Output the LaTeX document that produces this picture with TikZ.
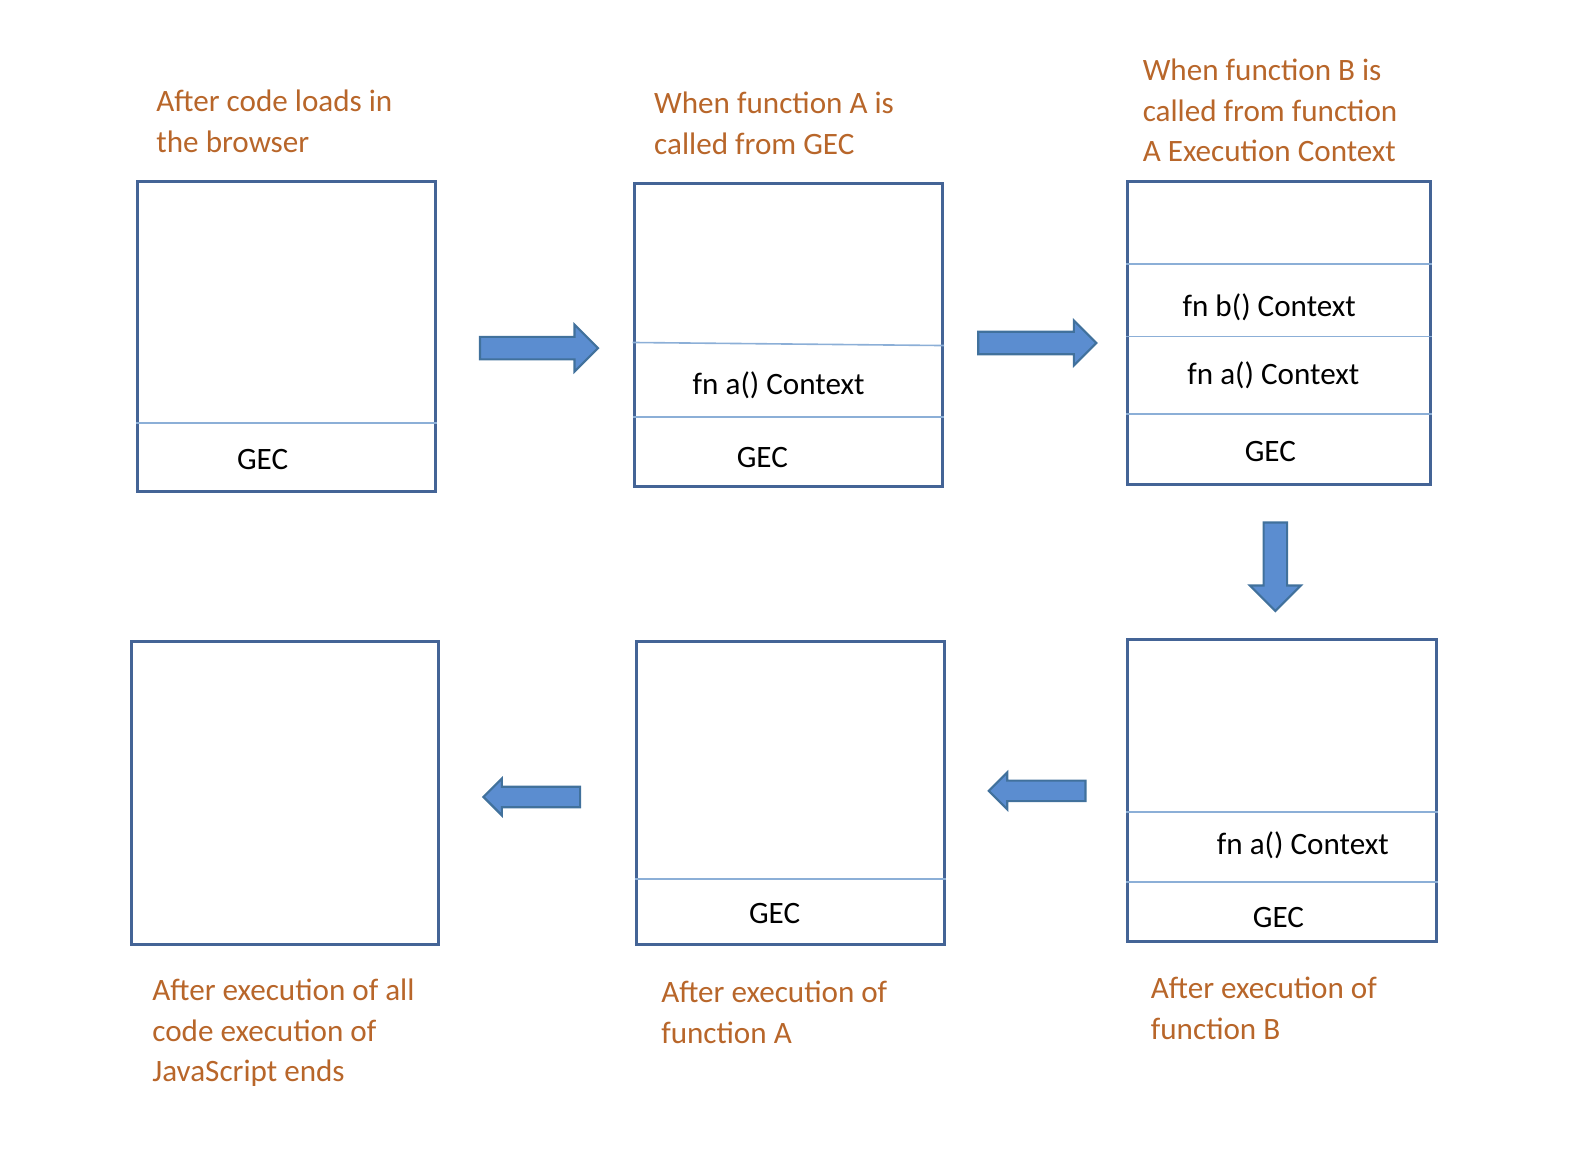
\documentclass[tikz,border=0pt]{standalone}
\usepackage{fontspec}
\setmainfont{Carlito}
\usetikzlibrary{shapes, arrows, positioning}
\definecolor{stackblue}{RGB}{68, 100, 150}
\definecolor{layerblue}{RGB}{140, 175, 215}
\definecolor{arrowfill}{RGB}{91, 141, 208}
\definecolor{arrowline}{RGB}{65, 113, 156}
\definecolor{noteorange}{RGB}{184, 102, 42}

\begin{document}
\begin{tikzpicture}[
        stack/.style={rectangle, draw=stackblue, line width=0.85pt, inner sep=0pt},
        layer/.style={draw=layerblue, line width=0.45pt},
        frame/.style={anchor=base, inner sep=0pt, font=\fontsize{8.7}{11.4}\selectfont},
        note/.style={anchor=base west, align=left, inner sep=0pt, text=noteorange, font=\fontsize{8.7}{11.4}\selectfont},
        flow/.style={single arrow, draw=arrowline, fill=arrowfill, line width=0.6pt, inner sep=0.1cm, minimum width=0pt, single arrow tip angle=90}
    ]
        \useasboundingbox (0, 0) rectangle (15.68, 11.32);

        % stacks
        \node[stack, minimum width=2.93cm, minimum height=3.05cm] (b1) at (2.815, 8.015) {};
        \node[stack, minimum width=3.03cm, minimum height=2.98cm] (b2) at (7.745, 8.03) {};
        \node[stack, minimum width=2.97cm, minimum height=2.98cm] (b3) at (12.565, 8.05) {};
        \node[stack, minimum width=3.03cm, minimum height=2.97cm] (b4) at (12.595, 3.555) {};
        \node[stack, minimum width=3.03cm, minimum height=2.98cm] (b5) at (7.765, 3.53) {};
        \node[stack, minimum width=3.02cm, minimum height=2.98cm] (b6) at (2.80, 3.53) {};

        % layers
        \draw[layer] ([yshift=0.69cm]b1.south west) -- ([yshift=0.69cm]b1.south east);
        \draw[layer] ([yshift=1.43cm]b2.south west) -- ([yshift=1.40cm]b2.south east);
        \draw[layer] ([yshift=0.70cm]b2.south west) -- ([yshift=0.70cm]b2.south east);
        \draw[layer] ([yshift=2.18cm]b3.south west) -- ([yshift=2.18cm]b3.south east);
        \draw[layer] ([yshift=1.47cm]b3.south west) -- ([yshift=1.47cm]b3.south east);
        \draw[layer] ([yshift=0.71cm]b3.south west) -- ([yshift=0.71cm]b3.south east);
        \draw[layer] ([yshift=1.29cm]b4.south west) -- ([yshift=1.29cm]b4.south east);
        \draw[layer] ([yshift=0.60cm]b4.south west) -- ([yshift=0.60cm]b4.south east);
        \draw[layer] ([yshift=0.66cm]b5.south west) -- ([yshift=0.66cm]b5.south east);

        % frames
        \node[frame] (t1g) at (2.58, 6.71) {GEC};
        \node[frame] (t2a) at (7.65, 7.44) {fn a() Context};
        \node[frame] (t2g) at (7.49, 6.73) {GEC};
        \node[frame] (t3b) at (12.47, 8.21) {fn b() Context};
        \node[frame] (t3a) at (12.51, 7.54) {fn a() Context};
        \node[frame] (t3g) at (12.48, 6.79) {GEC};
        \node[frame] (t4a) at (12.80, 2.92) {fn a() Context};
        \node[frame] (t4g) at (12.56, 2.21) {GEC};
        \node[frame] (t5g) at (7.61, 2.25) {GEC};

        % arrows
        \node[flow, minimum height=1.16cm, single arrow head extend=0.12cm] (a12) at (5.24, 7.90) {};
        \node[flow, minimum height=1.16cm, single arrow head extend=0.11cm] (a23) at (10.135, 7.95) {};
        \node[flow, minimum height=0.87cm, single arrow head extend=0.135cm, inner sep=0.105cm, rotate=270] (a34) at (12.53, 5.81) {};
        \node[flow, minimum height=0.95cm, single arrow head extend=0.08cm, inner sep=0.09cm, rotate=180] (a45) at (10.24, 3.55) {};
        \node[flow, minimum height=0.95cm, single arrow head extend=0.08cm, inner sep=0.09cm, rotate=180] (a56) at (5.275, 3.49) {};

        % notes
        \node[note] (n1) at (1.53, 9.82) {After code loads in\\the browser};
        \node[note] (n2) at (6.42, 9.80) {When function A is\\called from GEC};
        \node[note] (n3) at (11.22, 9.73) {When function B is\\called from function\\A Execution Context};
        \node[note] (n4) at (11.30, 1.11) {After execution of\\function B};
        \node[note] (n5) at (6.49, 1.07) {After execution of\\function A};
        \node[note] (n6) at (1.49, 0.69) {After execution of all\\code execution of\\JavaScript ends};
    \end{tikzpicture}
\end{document}
